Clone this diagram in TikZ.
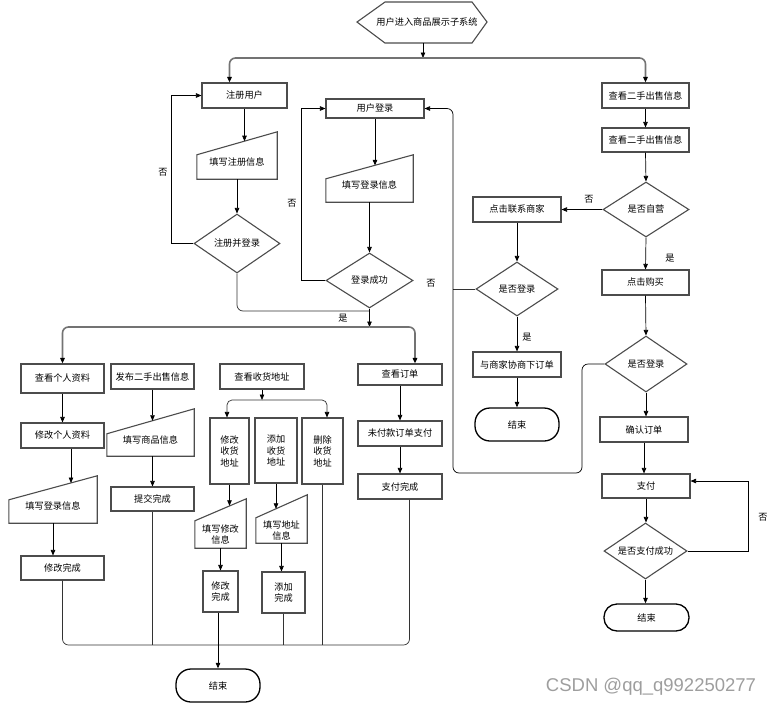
\documentclass[tikz,border=0pt]{standalone}
\usepackage{fontspec}
\newfontfamily\cjk{Noto Sans CJK SC}
\newfontfamily\markfont{Liberation Sans}
\usetikzlibrary{arrows.meta, calc, shapes.geometric}

\begin{document}
\begin{tikzpicture}[x=1pt, y=-1pt, font=\cjk\fontsize{9.2}{11.5}\selectfont,
  shapeline/.style={draw=black!70, line width=1.1pt},
  proc/.style={shapeline, minimum width=#1, minimum height=25pt, inner sep=1pt}, proc/.default=84pt,
  col/.style={shapeline, align=center, inner sep=1pt, minimum width=#1, minimum height=66pt},
  manual/.style={inner sep=1pt, minimum width=#1, minimum height=23pt},
  lift/.style={text depth=11pt},
  dec/.style={diamond, shapeline, aspect=1.5, inner sep=0pt, minimum width=86pt, minimum height=56pt},
  term/.style={draw=black, line width=1.3pt, rounded corners=15pt, minimum width=84pt, minimum height=33pt},
  tip/.tip={Triangle[length=5.5pt, width=4.5pt, black]},
  arrow/.style={draw=black, line width=0.7pt, -tip},
  link/.style={draw=black!80, line width=0.7pt},
  bus/.style={draw=black!55, line width=1.6pt, rounded corners=6pt}]
\useasboundingbox (0,0) rectangle (772,705);

% start
\node[minimum height=41pt, inner sep=0pt] (enter) at (427,22) {用户进入商品展示子系统};
\draw[shapeline] ([shift={(-70,0)}]enter.center) -- ([shift={(-42,-20)}]enter.center) -- ([shift={(45,-20)}]enter.center) -- ([shift={(60,0)}]enter.center) -- ([shift={(45,21)}]enter.center) -- ([shift={(-42,21)}]enter.center) -- cycle;

% register and login
\node[proc=85pt] (reg) at (244.5,95.5) {注册用户};
\node[manual=80pt, minimum height=24pt, lift] (regfill) at (237,167) {填写注册信息};
\node[dec, minimum height=59pt] (regdec) at (237,243.5) {注册并登录};
\node[proc=98pt, minimum height=19pt] (login) at (375,108.5) {用户登录};
\node[manual=87pt, lift] (loginfill) at (369.5,190.5) {填写登录信息};
\node[dec, minimum width=87pt, minimum height=55pt] (logindec) at (369.5,280.5) {登录成功};

% right column
\node[proc=87pt] (view1) at (645.5,95.5) {查看二手出售信息};
\node[proc=87pt, minimum height=24pt] (view2) at (645.5,140) {查看二手出售信息};
\node[dec, minimum height=55pt] (selfdec) at (646,209.5) {是否自营};
\node[proc=88pt] (contact) at (517,209.5) {点击联系商家};
\node[dec, minimum width=82pt, minimum height=54pt] (chkdec) at (517,289) {是否登录};
\node[proc=88pt] (negot) at (517,364.5) {与商家协商下订单};
\node[term] (endmid) at (517,424.5) {结束};
\node[proc=87pt] (buy) at (645.5,282.5) {点击购买};
\node[dec, minimum width=82pt] (buydec) at (646,364) {是否登录};
\node[proc=88pt] (confirm) at (644,429.5) {确认订单};
\node[proc=88pt, minimum height=24pt] (pay) at (646,486) {支付};
\node[dec, minimum width=83pt] (paydec) at (645.5,551) {是否支付成功};
\node[term, minimum width=85pt, minimum height=27pt, rounded corners=13pt] (endright) at (646.5,617.5) {结束};

% lower left
\node[proc=83pt, minimum height=29pt] (info) at (62.5,378.5) {查看个人资料};
\node[proc=83pt] (publish) at (152.5,376.5) {发布二手出售信息};
\node[proc] (addr) at (262,376.5) {查看收货地址};
\node[proc, minimum height=21pt] (order) at (400,374.5) {查看订单};
\node[proc=83pt] (edit) at (62.5,435.5) {修改个人资料};
\node[manual=88pt, lift] (editfill) at (53,511.5) {填写登录信息};
\node[proc=83pt, minimum height=24pt] (editdone) at (62.5,568) {修改完成};
\node[manual=87pt, minimum height=22pt, lift] (goodsfill) at (150.5,445) {填写商品信息};
\node[proc=83pt, minimum height=24pt] (submit) at (152.5,499) {提交完成};
\node[col=39pt] (modaddr) at (229.5,451) {修改\\收货\\地址};
\node[col=42pt, minimum height=65pt] (addaddr) at (276,450.5) {添加\\收货\\地址};
\node[col=41pt] (deladdr) at (322.5,451) {删除\\收货\\地址};
\node[manual=51pt, minimum height=27pt, align=center] (modfill) at (220.5,534.5) {填写修改\\信息};
\node[col=35pt, minimum height=41pt] (moddone) at (220.5,591.5) {修改\\完成};
\node[manual=51pt, minimum height=25pt, align=center] (addfill) at (281.5,530.5) {填写地址\\信息};
\node[col=43pt, minimum height=41pt] (adddone) at (283.5,592.5) {添加\\完成};
\node[proc] (unpaid) at (400,433.5) {未付款订单支付};
\node[proc] (paid) at (400,486.5) {支付完成};
\node[term] (endleft) at (218,685.5) {结束};

% manual input outlines
\foreach \n/\s/\f in {regfill/23/0.59, loginfill/24/0.56, editfill/24/0.70, goodsfill/25/0.52, modfill/22/0.68, addfill/23/0.39} {
  \coordinate (\n-tr) at ([yshift=\s pt]\n.north east);
  \coordinate (\n-in) at ($(\n.north west)!\f!(\n-tr)$);
  \draw[shapeline] (\n.south west) -- (\n.south east) -- (\n-tr) -- (\n.north west) -- cycle;
}

% junctions
\coordinate (topbus) at (423,58);
\coordinate (merge) at (369.5,311);
\coordinate (branch) at (369.5,327);
\coordinate (addrjoin) at (262,400);
\coordinate (collect) at (218,645);
\coordinate (loopR) at (582,473);
\coordinate (loopL) at (453,473);
\coordinate (editout) at ([xshift=8.5pt]edit.south);

% connectors
\draw[arrow] (enter.south -| topbus) -- (topbus);
\draw[bus, -tip] (topbus) -| ([xshift=-15pt]reg.north);
\draw[bus, -tip] (topbus) -| (view1.north);
\draw[arrow] (reg.south) -- (reg.south |- regfill-in);
\draw[arrow] (regfill.south) -- (regdec.north);
\draw[arrow] (regdec.west) -- ++(-22,0) |- (reg.west);
\draw[link, rounded corners=6pt] (regdec.south) |- (merge);
\draw[arrow] (login.south) -- (login.south |- loginfill-in);
\draw[arrow] (loginfill.south) -- (logindec.north);
\draw[arrow] (logindec.west) -- ++(-24,0) |- (login.west);
\draw[arrow] (logindec.south) -- (branch);
\draw[bus, -tip] (branch) -| (info.north);
\draw[bus, -tip] (branch) -| ([xshift=15pt]order.north);

\draw[arrow] (info.south) -- (edit.north);
\draw[arrow] (editout) -- (editout |- editfill-in);
\draw[arrow] (editfill.south) -- (editfill.south |- editdone.north);
\draw[arrow] (publish.south) -- (publish.south |- goodsfill-in);
\draw[arrow] (submit.north |- goodsfill.south) -- (submit.north);
\draw[arrow] (addr.south) -- (addrjoin);
\draw[link, -tip, rounded corners=5pt] (addrjoin) -| ([xshift=-2.5pt]modaddr.north);
\draw[link, -tip, rounded corners=5pt] (addrjoin) -| ([xshift=4.5pt]deladdr.north);
\draw[arrow] (modaddr.south) -- (modaddr.south |- modfill-in);
\draw[arrow] (modfill.south) -- (moddone.north);
\draw[arrow] (addaddr.south) -- (addaddr.south |- addfill-in);
\draw[arrow] (addfill.south) -- (addfill.south |- adddone.north);
\draw[arrow] (order.south) -- (unpaid.north);
\draw[arrow] (unpaid.south) -- (paid.north);

\draw[link, rounded corners=6pt] (editdone.south) |- (collect);
\draw[link, rounded corners=6pt] ([xshift=9.5pt]paid.south) |- (collect);
\draw[link] (submit.south) -- (submit.south |- collect);
\draw[link] (adddone.south) -- (adddone.south |- collect);
\draw[link] (deladdr.south) -- (deladdr.south |- collect);
\draw[arrow] (endleft.north |- moddone.south) -- (endleft.north);

\draw[arrow] (view1.south) -- (view2.north);
\draw[arrow] (view2.south) -- (selfdec.north);
\draw[arrow] (selfdec.west) -- (contact.east);
\draw[arrow] (selfdec.south) -- (buy.north);
\draw[arrow] (contact.south) -- (chkdec.north);
\draw[arrow] (chkdec.south) -- (negot.north);
\draw[arrow] (negot.south) -- (endmid.north);
\draw[link] (chkdec.west) -- (chkdec.west -| loopL);
\draw[arrow, rounded corners=6pt] (buydec.west) -| (loopR) -- (loopL) |- (login.east);
\draw[arrow] (buy.south) -- (buydec.north);
\draw[arrow] (buydec.south) -- (buydec.south |- confirm.north);
\draw[arrow] (confirm.south) -- (confirm.south |- pay.north);
\draw[arrow] (pay.south) -- (pay.south |- paydec.north);
\draw[arrow] (paydec.east) -- ++(61,0) |- ([yshift=5pt]pay.east);
\draw[arrow] (paydec.south) -- (paydec.south |- endright.north);

% labels
\node (no1) at (163,172) {否};
\node (no2) at (292,203) {否};
\node (yes1) at (343,318) {是};
\node (no3) at (431,283) {否};
\node (no4) at (589,199) {否};
\node (yes2) at (670,258) {是};
\node (yes3) at (527,337) {是};
\node (no5) at (763,517) {否};

\node[font=\markfont\fontsize{18.5}{20}\selectfont, text=black!38] (mark) at (651,687) {CSDN @qq\_q992250277};
\end{tikzpicture}
\end{document}
